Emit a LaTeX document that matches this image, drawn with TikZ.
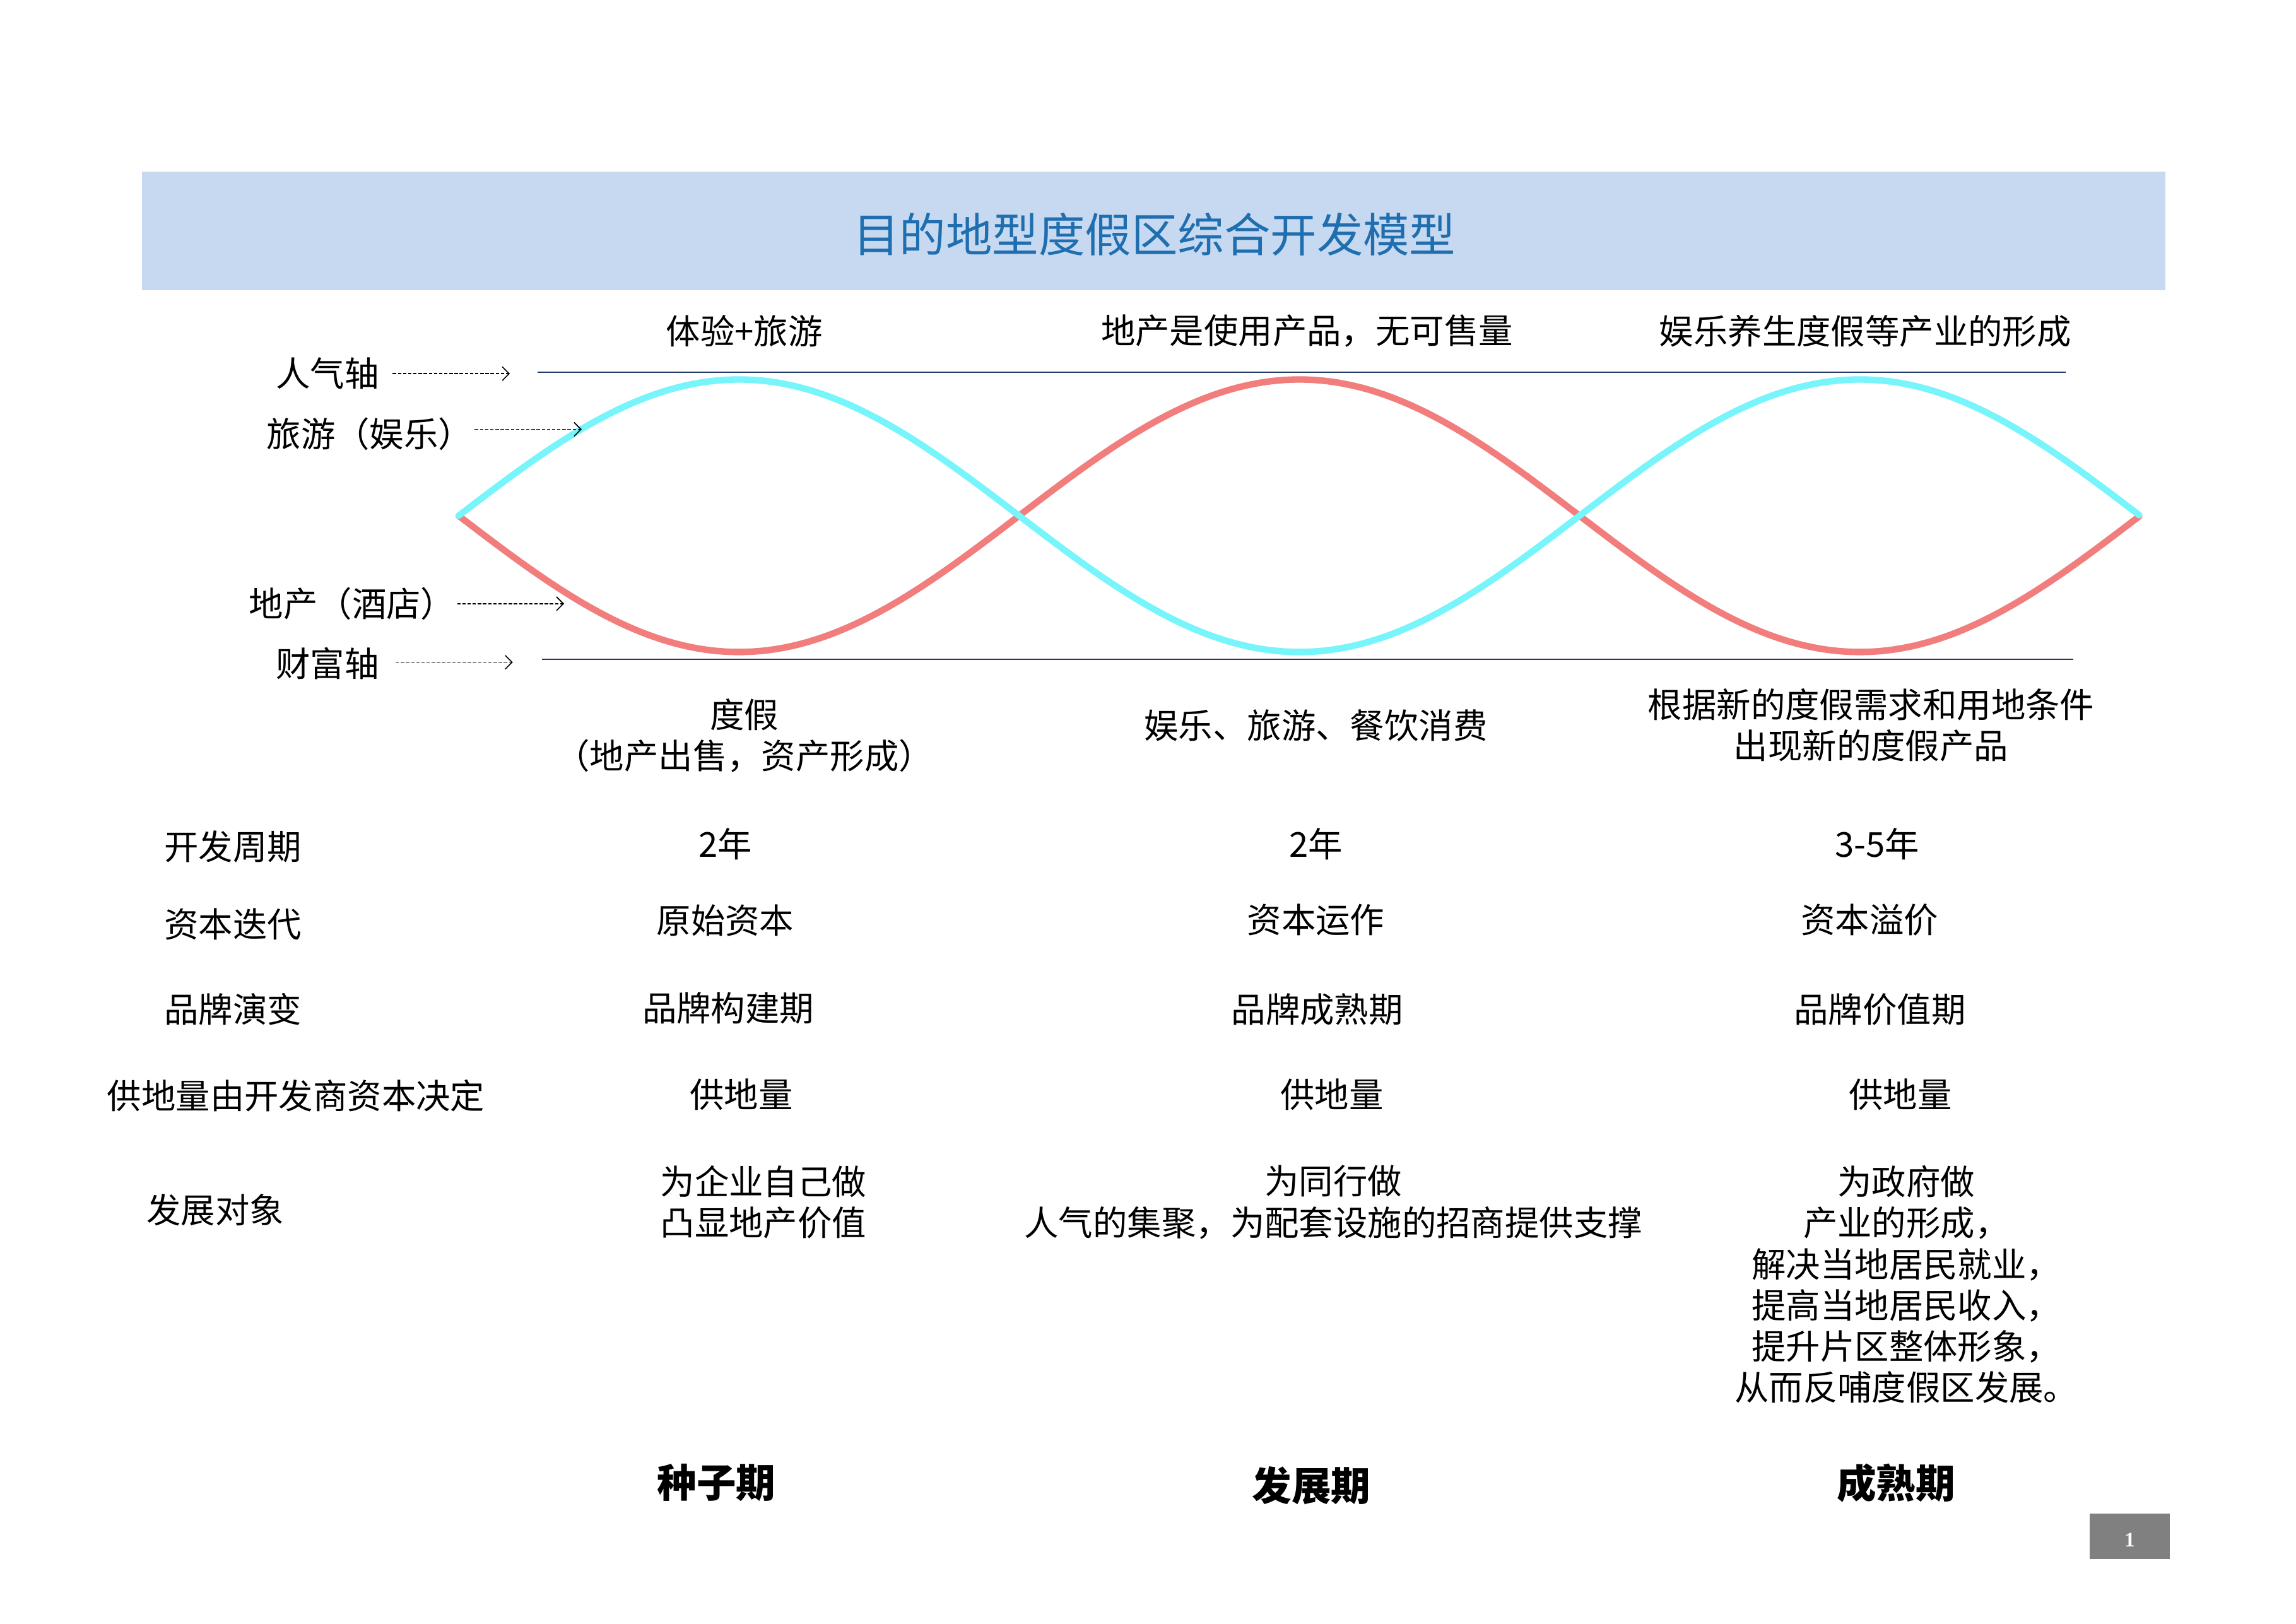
\documentclass[tikz,border=0pt]{standalone}
\usepackage{fontspec}
\setmainfont{Noto Sans CJK SC}
\usetikzlibrary{arrows.meta}
\definecolor{bandblue}{RGB}{198,217,240}
\definecolor{titleblue}{RGB}{31,110,175}
\definecolor{axisnavy}{RGB}{31,56,100}
\definecolor{tourcyan}{RGB}{120,245,250}
\definecolor{estatered}{RGB}{242,125,125}
\definecolor{pagegray}{RGB}{128,128,128}

\begin{document}
\begin{tikzpicture}[x=0.3mm, y=-0.3mm,
    label/.style={font=\fontsize{20}{24}\selectfont, align=center, inner sep=1pt},
    phase/.style={font=\fontsize{23}{28}\selectfont\bfseries, inner sep=1pt},
    axis/.style={axisnavy, line width=0.8pt},
    pointer/.style={-{Straight Barb[length=4pt]}, dash pattern=on 2pt off 1pt, line width=0.6pt},
    wave/.style={line width=3.8pt, line cap=round}
]
    \useasboundingbox (0,0) rectangle (1567,1108);
    % title band
    \fill[bandblue] (97,117) rectangle (1478,198);
    \node[font=\fontsize{27}{32}\selectfont, text=titleblue] (title) at (788,160) {目的地型度假区综合开发模型};
    % axes
    \coordinate (topL) at (367,254);
    \coordinate (topR) at (1410,254);
    \coordinate (botL) at (370,450);
    \coordinate (botR) at (1415,450);
    \draw[axis] (topL) -- (topR);
    \draw[axis] (botL) -- (botR);
    % waves
    \draw[wave, estatered] plot[domain=313:1460, samples=150, smooth] (\x, {352+93*sin((\x-313)/765*360)});
    \draw[wave, tourcyan] plot[domain=313:1460, samples=150, smooth] (\x, {352-93*sin((\x-313)/765*360)});
    % upper texts
    \node[label] (up1) at (508,226) {体验+旅游};
    \node[label] (up2) at (892,226) {地产是使用产品，无可售量};
    \node[label] (up3) at (1273,226) {娱乐养生度假等产业的形成};
    % left pointers
    \node[label, anchor=east] (renqi) at (260,255) {人气轴};
    \node[label, anchor=east] (lvyou) at (324,296) {旅游（娱乐）};
    \node[label, anchor=east] (dichan) at (312,412) {地产（酒店）};
    \node[label, anchor=east] (caifu) at (260,453) {财富轴};
    \coordinate (renqiE) at (348,255);
    \coordinate (lvyouE) at (397,293);
    \coordinate (dichanE) at (385,412);
    \coordinate (caifuE) at (350,452);
    \draw[pointer] (renqi.east) ++(8,0) -- (renqiE);
    \draw[pointer] (lvyou.east) ++(0,-3) -- (lvyouE);
    \draw[pointer] (dichan.east) ++(0,0) -- (dichanE);
    \draw[pointer] (caifu.east) ++(10,-1) -- (caifuE);
    % lower texts
    \node[label] (low1) at (508,502) {度假\\（地产出售，资产形成）};
    \node[label] (low2) at (898,495) {娱乐、旅游、餐饮消费};
    \node[label] (low3) at (1277,495) {根据新的度假需求和用地条件\\出现新的度假产品};
    % table rows
    \node[label] (rowA) at (159,578) {开发周期};
    \node[label] (rowB) at (159,631) {资本迭代};
    \node[label] (rowC) at (159,689) {品牌演变};
    \node[label] (rowD) at (202,748) {供地量由开发商资本决定};
    \node[label] (rowE) at (147,826) {发展对象};
    \node[label] (a1) at (495,576) {2年};
    \node[label] (a2) at (898,576) {2年};
    \node[label] (a3) at (1281,576) {3-5年};
    \node[label] (b1) at (495,628) {原始资本};
    \node[label] (b2) at (898,628) {资本运作};
    \node[label] (b3) at (1276,628) {资本溢价};
    \node[label] (c1) at (497,688) {品牌构建期};
    \node[label] (c2) at (899,689) {品牌成熟期};
    \node[label] (c3) at (1283,689) {品牌价值期};
    \node[label] (d1) at (506,747) {供地量};
    \node[label] (d2) at (909,747) {供地量};
    \node[label] (d3) at (1297,747) {供地量};
    \node[label, anchor=north] (e1) at (521,794) {为企业自己做\\凸显地产价值};
    \node[label, anchor=north] (e2) at (910,794) {为同行做\\人气的集聚，为配套设施的招商提供支撑};
    \node[label, anchor=north] (e3) at (1301,794) {为政府做\\产业的形成，\\解决当地居民就业，\\提高当地居民收入，\\提升片区整体形象，\\从而反哺度假区发展。};
    % phases
    \node[phase] (seed) at (489,1012) {种子期};
    \node[phase] (grow) at (895,1014) {发展期};
    \node[phase] (ripe) at (1294,1012) {成熟期};
    % page number
    \fill[pagegray] (1426,1033) rectangle (1481,1064);
    \node[text=white, font=\fontspec{Liberation Serif}\bfseries\fontsize{12}{14}\selectfont] (page) at (1453.5,1051) {1};
\end{tikzpicture}
\end{document}
